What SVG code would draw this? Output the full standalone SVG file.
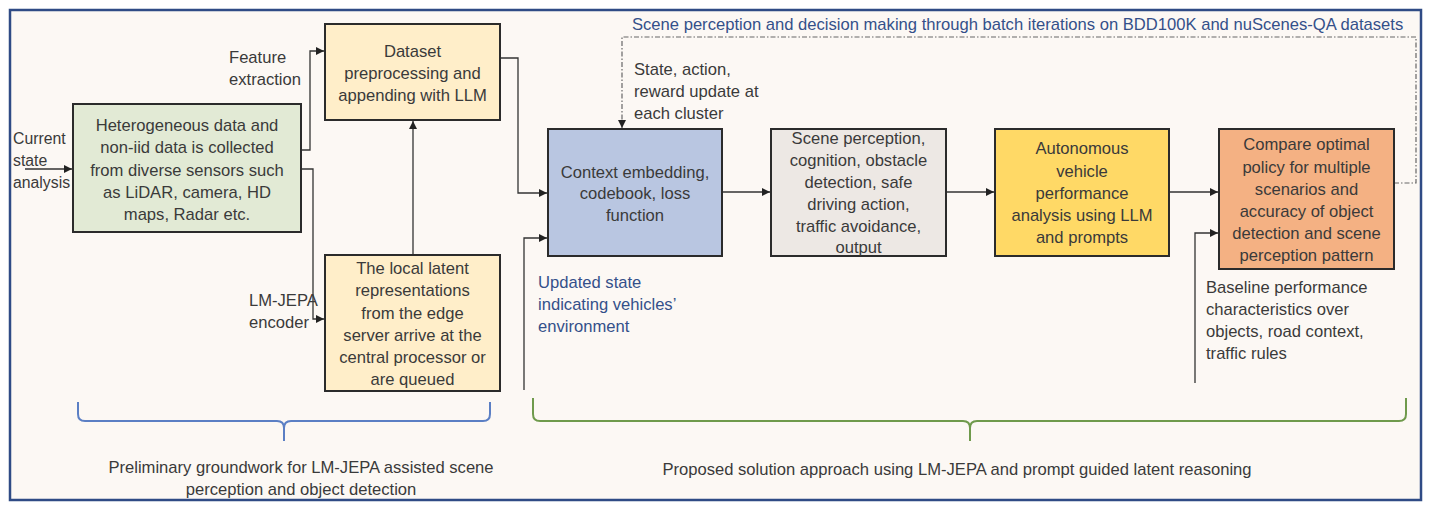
<svg xmlns="http://www.w3.org/2000/svg" width="1431" height="510" viewBox="0 0 1431 510">
<style>
text{font-family:"Liberation Sans",Arial,sans-serif;font-size:16.6px;fill:#3a3a3a}
.c{text-anchor:middle}
.b{fill:#34508a}
.s{font-size:15.8px}
.box{stroke:#2b2b2b;stroke-width:2}
.ln{fill:none;stroke:#333;stroke-width:1.3}
.dd{fill:none;stroke:#666;stroke-width:1.2;stroke-dasharray:5 2 1.5 2}
</style>
<defs>
<marker id="ah" viewBox="0 0 10 10" refX="10" refY="5" markerWidth="8" markerHeight="8" markerUnits="userSpaceOnUse" orient="auto"><path d="M0,0L10,5L0,10z" fill="#222"/></marker>
</defs>
<rect x="10" y="10" width="1411" height="490" fill="#fcf8f4" stroke="#2f4b85" stroke-width="2.5"/>
<g id="connectors">
<path class="ln" d="M25,169H72" marker-end="url(#ah)"/>
<path class="ln" d="M301,150H310V51H324" marker-end="url(#ah)"/>
<path class="ln" d="M301,169H313V319H324" marker-end="url(#ah)"/>
<path class="ln" d="M413,255V121" marker-end="url(#ah)"/>
<path class="ln" d="M500,58H518V193H547" marker-end="url(#ah)"/>
<path class="ln" d="M722,192H770" marker-end="url(#ah)"/>
<path class="ln" d="M946,192H994" marker-end="url(#ah)"/>
<path class="ln" d="M1169,192H1218" marker-end="url(#ah)"/>
<path class="ln" d="M524,390V238H547" marker-end="url(#ah)"/>
<path class="ln" d="M1195,383V233H1218" marker-end="url(#ah)"/>
<path class="dd" d="M1394,183H1416V37H622V128" marker-end="url(#ah)"/>
</g>
<g id="braces" fill="none" stroke-width="2">
<path d="M78,402V414Q78,421 85,421H277Q284,421 284,428V441M284,428Q284,421 291,421H483Q490,421 490,414V402" stroke="#5b7fc4"/>
<path d="M533,398V414Q533,421 540,421H963Q970,421 970,428V441M970,428Q970,421 977,421H1399Q1406,421 1406,414V398" stroke="#6f9a4c"/>
</g>
<g id="labels">
<text class="s" x="13" y="144">Current</text>
<text class="s" x="13" y="166">state</text>
<text class="s" x="13" y="188">analysis</text>
<text x="229" y="63">Feature</text>
<text x="229" y="85">extraction</text>
<text x="249" y="306">LM-JEPA</text>
<text x="249" y="328">encoder</text>
<text class="b" x="632" y="30">Scene perception and decision making through batch iterations on BDD100K and nuScenes-QA datasets</text>
<text x="634" y="75">State, action,</text>
<text x="634" y="97">reward update at</text>
<text x="634" y="119">each cluster</text>
<text class="b" x="538" y="288">Updated state</text>
<text class="b" x="538" y="310">indicating vehicles’</text>
<text class="b" x="538" y="332">environment</text>
<text x="1206" y="293">Baseline performance</text>
<text x="1206" y="315">characteristics over</text>
<text x="1206" y="337">objects, road context,</text>
<text x="1206" y="359">traffic rules</text>
<text class="c" x="301" y="473">Preliminary groundwork for LM-JEPA assisted scene</text>
<text class="c" x="301" y="495">perception and object detection</text>
<text class="c" x="957" y="475">Proposed solution approach using LM-JEPA and prompt guided latent reasoning</text>
</g>
<g id="n-sensors">
<rect class="box" x="73" y="104" width="228" height="128" fill="#e2ead5"/>
<text class="c" x="187" y="131">Heterogeneous data and</text>
<text class="c" x="187" y="153">non-iid data is collected</text>
<text class="c" x="187" y="176">from diverse sensors such</text>
<text class="c" x="187" y="198">as LiDAR, camera, HD</text>
<text class="c" x="187" y="220">maps, Radar etc.</text>
</g>
<g id="n-dataset">
<rect class="box" x="325" y="24" width="175" height="96" fill="#ffeec9"/>
<text class="c" x="412.5" y="57">Dataset</text>
<text class="c" x="412.5" y="79">preprocessing and</text>
<text class="c" x="412.5" y="101">appending with LLM</text>
</g>
<g id="n-latent">
<rect class="box" x="325" y="255" width="175" height="136" fill="#ffeec9"/>
<text class="c" x="412.5" y="274">The local latent</text>
<text class="c" x="412.5" y="296">representations</text>
<text class="c" x="412.5" y="319">from the edge</text>
<text class="c" x="412.5" y="341">server arrive at the</text>
<text class="c" x="412.5" y="363">central processor or</text>
<text class="c" x="412.5" y="385">are queued</text>
</g>
<g id="n-context">
<rect class="box" x="548" y="129" width="174" height="127" fill="#b9c6e1"/>
<text class="c" x="635" y="178">Context embedding,</text>
<text class="c" x="635" y="199">codebook, loss</text>
<text class="c" x="635" y="221">function</text>
</g>
<g id="n-scene">
<rect class="box" x="771" y="129" width="175" height="127" fill="#ede8e4"/>
<text class="c" x="858.5" y="144">Scene perception,</text>
<text class="c" x="858.5" y="166">cognition, obstacle</text>
<text class="c" x="858.5" y="188">detection, safe</text>
<text class="c" x="858.5" y="210">driving action,</text>
<text class="c" x="858.5" y="232">traffic avoidance,</text>
<text class="c" x="858.5" y="253">output</text>
</g>
<g id="n-av">
<rect class="box" x="995" y="129" width="174" height="127" fill="#ffd966"/>
<text class="c" x="1082" y="154">Autonomous</text>
<text class="c" x="1082" y="177">vehicle</text>
<text class="c" x="1082" y="199">performance</text>
<text class="c" x="1082" y="221">analysis using LLM</text>
<text class="c" x="1082" y="243">and prompts</text>
</g>
<g id="n-compare">
<rect class="box" x="1219" y="129" width="175" height="140" fill="#f4b183"/>
<text class="c" x="1306.5" y="150">Compare optimal</text>
<text class="c" x="1306.5" y="173">policy for multiple</text>
<text class="c" x="1306.5" y="195">scenarios and</text>
<text class="c" x="1306.5" y="217">accuracy of object</text>
<text class="c" x="1306.5" y="239">detection and scene</text>
<text class="c" x="1306.5" y="261">perception pattern</text>
</g>
</svg>
